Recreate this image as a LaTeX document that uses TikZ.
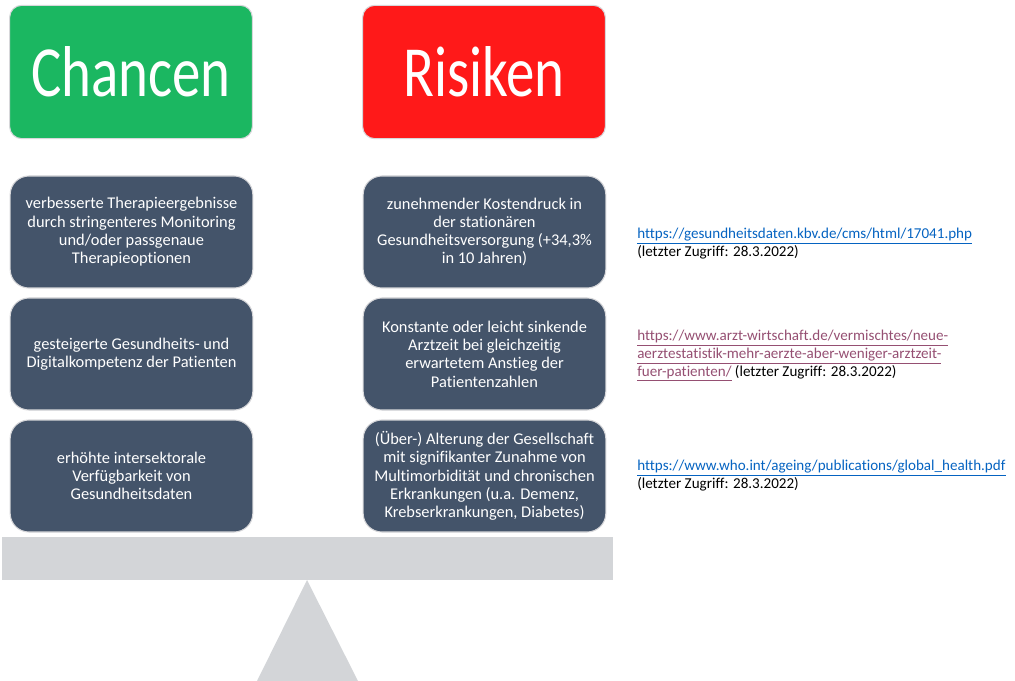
\documentclass[tikz,border=0pt]{standalone}
\usepackage{fontspec}
\setmainfont[RawFeature=-liga]{Carlito}
\usepackage{graphicx}
\definecolor{chanceGreen}{RGB}{27,183,97}
\definecolor{riskRed}{RGB}{255,25,25}
\definecolor{slateBlue}{RGB}{68,84,106}
\definecolor{frameGrey}{RGB}{215,215,218}
\definecolor{beamGrey}{RGB}{211,213,216}
\definecolor{linkBlue}{RGB}{5,99,193}
\definecolor{linkPurple}{RGB}{149,79,114}
\newcommand{\hdr}[1]{\scalebox{0.79}[1]{\fontsize{54}{60}\selectfont #1}}
\newcommand{\lnk}[2]{\textcolor{#1}{\underline{#2}}}

\begin{document}
\begin{tikzpicture}[x = 0.75pt, y = -0.75pt]
\tikzstyle{HeadStyle} = [shape = rectangle, rounded corners = 9pt, minimum width = 182pt, minimum height = 100pt, draw = frameGrey, line width = 0.8pt, text = white, inner sep = 0pt]
\tikzstyle{chanceStyle} = [HeadStyle, fill = chanceGreen]
\tikzstyle{riskStyle} = [HeadStyle, fill = riskRed]
\tikzstyle{itemStyle} = [shape = rectangle, rounded corners = 14pt, minimum width = 182pt, minimum height = 84pt, draw = frameGrey, line width = 0.8pt, fill = slateBlue, text = white, align = center, font = \fontsize{12.3}{13.7}\selectfont, inner sep = 0pt]
\tikzstyle{sourceStyle} = [anchor = north west, align = left, inner sep = 0pt, font = \fontsize{11.3}{13.4}\selectfont]
\useasboundingbox (0,0) rectangle (1015,681);
\node[chanceStyle] (chancen) at (131, 72) {\hdr{Chancen}};
\node[riskStyle] (risiken) at (484, 72) {\hdr{Risiken}};
\node[itemStyle] (c1) at (131.5, 232) {verbesserte Therapieergebnisse\\durch stringenteres Monitoring\\und/oder passgenaue\\Therapieoptionen};
\node[itemStyle] (c2) at (131.5, 354) {gesteigerte Gesundheits- und\\Digitalkompetenz der Patienten};
\node[itemStyle] (c3) at (131.5, 476) {erhöhte intersektorale\\Verfügbarkeit von\\Gesundheitsdaten};
\node[itemStyle] (r1) at (484.5, 232) {zunehmender Kostendruck in\\der stationären\\Gesundheitsversorgung (+34,3\%\\in 10 Jahren)};
\node[itemStyle] (r2) at (484.5, 354) {Konstante oder leicht sinkende\\Arztzeit bei gleichzeitig\\erwartetem Anstieg der\\Patientenzahlen};
\node[itemStyle] (r3) at (484.5, 476) {(Über-) Alterung der Gesellschaft\\mit signifikanter Zunahme von\\Multimorbidität und chronischen\\Erkrankungen (u.a. Demenz,\\Krebserkrankungen, Diabetes)};
\node[sourceStyle] (s1) at (637, 228) {\lnk{linkBlue}{https://gesundheitsdaten.kbv.de/cms/html/17041.php}\\(letzter Zugriff: 28.3.2022)};
\node[sourceStyle] (s2) at (637, 330) {\lnk{linkPurple}{https://www.arzt-wirtschaft.de/vermischtes/neue-}\\\lnk{linkPurple}{aerztestatistik-mehr-aerzte-aber-weniger-arztzeit-}\\\lnk{linkPurple}{fuer-patienten/} (letzter Zugriff: 28.3.2022)};
\node[sourceStyle] (s3) at (637, 460) {\lnk{linkBlue}{https://www.who.int/ageing/publications/global\_health.pdf}\\(letzter Zugriff: 28.3.2022)};
\fill[beamGrey] (2, 537) rectangle (613, 580);
\fill[beamGrey] (307, 580) -- (257, 681) -- (358, 681) -- cycle;
\end{tikzpicture}
\end{document}
